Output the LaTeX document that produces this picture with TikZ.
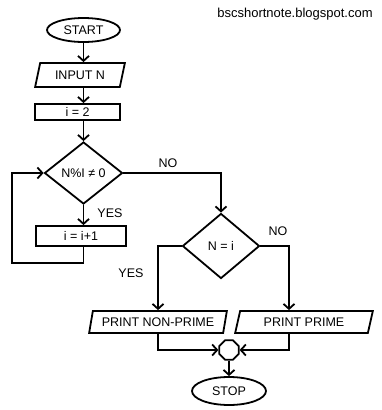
\documentclass[tikz,border=0pt]{standalone}
\usepackage{fontspec}
\setmainfont{Liberation Sans}
\usetikzlibrary{shapes.geometric,arrows.meta}
\begin{document}
\begin{tikzpicture}[x=1pt,y=-1pt,
  every node/.style={font=\fontsize{12.5}{14}\selectfont},
  line/.style={line width=1.8pt},
  arr/.style={line, -{Straight Barb[length=5pt,width=11pt]}},
  term/.style={draw, line width=1.8pt, ellipse, minimum width=73pt, minimum height=24pt, inner sep=0pt},
  io/.style={draw, line width=1.8pt, trapezium, trapezium left angle=70, trapezium right angle=110, trapezium stretches=true, inner sep=0pt},
  proc/.style={draw, line width=1.8pt, rectangle, inner sep=0pt},
  dec/.style={draw, line width=1.8pt, diamond, inner sep=0pt},
  conn/.style={draw, line width=1.8pt, regular polygon, regular polygon sides=8, minimum size=21pt, inner sep=0pt},
  lbl/.style={inner sep=0pt}
]
\useasboundingbox (0,0) rectangle (382,410);
\node[term] (start) at (83.5,30) {START};
\node[io, minimum width=90pt, minimum height=24pt] (input) at (80,75) {INPUT N};
\node[proc, minimum width=85pt, minimum height=16pt] (i2) at (77.5,112) {i = 2};
\node[dec, minimum width=78pt, minimum height=62pt] (d1) at (83.5,173) {N\%I ≠ 0};
\node[proc, minimum width=90pt, minimum height=20pt] (inc) at (81,236) {i = i+1};
\node[dec, minimum width=77pt, minimum height=65pt] (d2) at (221,246) {N = i};
\node[io, minimum width=138pt, minimum height=22pt] (np) at (158,322) {PRINT NON-PRIME};
\node[io, minimum width=138pt, minimum height=22pt] (pr) at (304,322) {PRINT PRIME};
\node[conn] (c) at (229,350) {};
\node[term, minimum width=74pt, minimum height=28pt] (stop) at (229,391) {STOP};
\node[font=\fontsize{13}{15}\selectfont] (wm) at (295,14) {bscshortnote.blogspot.com};

\node[lbl] (no1) at (168,163) {NO};
\node[lbl] (yes1) at (110,213) {YES};
\node[lbl] (no2) at (278,231) {NO};
\node[lbl] (yes2) at (131,273) {YES};

\coordinate (loopL) at (12,263);
\coordinate (rcol) at (289,246);

\draw[arr] (start.south) -- (start.south |- input.north);
\draw[arr] (start.south |- input.south) -- (start.south |- i2.north);
\draw[arr] (start.south |- i2.south) -- (d1.north);
\draw[arr] (d1.south) -- (d1.south |- inc.north);
\draw[arr] (inc.south -| d1.south) |- (loopL) |- (d1.west);
\draw[arr] (d1.east) -| (d2.north);
\draw[arr] (d2.west) -| (np.north);
\draw[arr] (d2.east) -- (rcol) -- (rcol |- pr.north);
\draw[arr] (np.south) |- (c.west);
\draw[arr] (rcol |- pr.south) |- (c.east);
\draw[arr] (c.south) -- (stop.north);
\end{tikzpicture}
\end{document}
